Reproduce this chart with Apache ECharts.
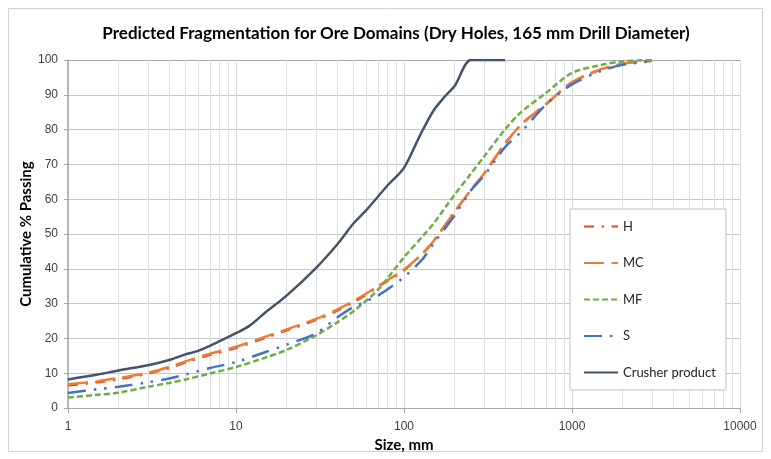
<!DOCTYPE html>
<html>
<head>
<meta charset="utf-8">
<script src="https://cdn.jsdelivr.net/npm/echarts@6/dist/echarts.min.js"></script>
<style>
  html, body { margin: 0; padding: 0; background: #fff; }
  #chart { width: 771px; height: 459px; }
</style>
</head>
<body>
<div id="chart"></div>
<script>
// Data

// Sizes (mm) shared by the domain curves
const domainSizes = [1, 1.5, 2, 3, 4, 5, 7, 10, 15, 20, 30, 40, 50, 70, 100, 130, 150, 200, 250, 300, 400, 500, 700, 1000, 1500, 2000, 3000];

// % passing for each ore domain
const hPassing  = [6.5, 7.4, 8.3, 9.9, 11.5, 13.1, 15.3, 17.3, 20.2, 22.3, 25.3, 28.0, 30.4, 34.8, 39.6, 44.6, 48.0, 56.4, 62.6, 67.4, 76.0, 81.5, 87.3, 93.6, 97.3, 98.8, 99.8];
const mcPassing = [6.8, 7.7, 8.6, 10.1, 11.8, 13.4, 15.6, 17.6, 20.5, 22.6, 25.6, 28.3, 30.7, 35.0, 39.8, 44.6, 48.0, 56.4, 62.6, 67.4, 76.0, 81.5, 87.3, 93.6, 97.4, 98.9, 99.8];
const mfPassing = [3.0, 3.8, 4.4, 6.1, 7.2, 8.2, 9.9, 11.8, 14.5, 16.7, 20.9, 24.6, 27.8, 34.0, 43.3, 49.5, 53.0, 61.3, 67.3, 72.3, 80.1, 85.1, 90.5, 96.3, 98.6, 99.6, 100];
const sPassing  = [4.3, 5.4, 6.1, 7.4, 8.5, 9.6, 11.5, 13.2, 16.1, 18.2, 21.5, 26.0, 29.0, 32.3, 37.6, 43.0, 47.3, 55.3, 62.5, 66.8, 75.0, 79.4, 87.2, 93.0, 96.9, 98.6, 99.7];

// Crusher product curve
const crusherSizes   = [1, 1.5, 2, 3, 4, 5, 6, 8, 10, 12, 15, 20, 30, 40, 50, 60, 80, 100, 125, 150, 175, 200, 250, 300, 400];
const crusherPassing = [8.2, 9.6, 10.8, 12.3, 13.8, 15.4, 16.5, 19.2, 21.5, 23.6, 27.5, 32.3, 40.3, 47.0, 53.0, 57.0, 64.0, 69.0, 78.5, 85.5, 89.5, 92.5, 100, 100, 100];

const seriesNames = ['H', 'MC', 'MF', 'S', 'Crusher product'];

// Minor vertical grid lines of the log axis (2..9 in every decade)
const minorSizes = [];
[1, 10, 100, 1000].forEach(decade => {
  for (let m = 2; m <= 9; m++) minorSizes.push(decade * m);
});

// Build [x, y] pairs
function pairs(xs, ys) {
  return xs.map((x, i) => [x, ys[i]]);
}

const chart = echarts.init(document.getElementById('chart'));

const labelFont = 'Liberation Sans';
const textFont = 'Lato';

// y split line colours, top one darker like the plot border
const ySplitColors = ['#c8c8c8', '#c8c8c8', '#c8c8c8', '#c8c8c8', '#c8c8c8', '#c8c8c8',
  '#c8c8c8', '#c8c8c8', '#c8c8c8', '#c8c8c8', '#a6a6a6'];

// one line series, no symbols
function curve(name, xs, ys, color, dash) {
  return {
    name: name,
    type: 'line',
    data: pairs(xs, ys),
    showSymbol: false,
    symbol: 'none',
    smooth: 0.3,
    color: color,
    itemStyle: { color: color },
    lineStyle: { color: color, width: 2.5, type: dash }
  };
}

const options = {
  animation: false,
  title: {
    text: 'Predicted Fragmentation for Ore Domains (Dry Holes, 165 mm Drill Diameter)',
    left: 391,
    textAlign: 'center',
    top: 20,
    textStyle: {
      fontFamily: textFont,
      fontSize: 17,
      fontWeight: 'bold',
      color: '#000'
    }
  },
  graphic: [{
    type: 'rect',
    silent: true,
    z: -1,
    shape: { x: 8.5, y: 8.5, width: 754, height: 443 },
    style: { fill: 'none', stroke: '#d0d0d0', lineWidth: 1 }
  }],
  grid: {
    left: 68,
    top: 60,
    width: 672,
    height: 348
  },
  legend: {
    orient: 'vertical',
    left: 570,
    top: 209,
    z: 20,
    data: seriesNames,
    itemWidth: 34,
    itemHeight: 14,
    itemGap: 23.5,
    padding: [11, 10, 11, 13],
    backgroundColor: '#fff',
    borderColor: '#bfbfbf',
    borderWidth: 1,
    itemStyle: { opacity: 0 },
    textStyle: {
      fontFamily: textFont,
      fontSize: 13,
      color: '#262626'
    }
  },
  xAxis: {
    type: 'log',
    logBase: 10,
    min: 1,
    max: 10000,
    name: 'Size, mm',
    nameLocation: 'middle',
    nameGap: 29,
    nameTextStyle: {
      fontFamily: textFont,
      fontSize: 15,
      fontWeight: 'bold',
      color: '#000'
    },
    axisLine: { lineStyle: { color: '#a6a6a6', width: 1 } },
    axisTick: { show: true, length: 5, lineStyle: { color: '#a6a6a6' } },
    axisLabel: {
      fontFamily: labelFont,
      fontSize: 12,
      color: '#404040',
      margin: 13,
      formatter: v => String(Math.round(v))
    },
    splitLine: { show: true, lineStyle: { color: '#d9d9d9', width: 1 } }
  },
  yAxis: {
    type: 'value',
    min: 0,
    max: 100,
    interval: 10,
    name: 'Cumulative % Passing',
    nameLocation: 'middle',
    nameGap: 34,
    nameMoveOverlap: false,
    nameTextStyle: {
      fontFamily: textFont,
      fontSize: 15,
      fontWeight: 'bold',
      color: '#000'
    },
    axisLine: { show: true, lineStyle: { color: '#a6a6a6', width: 1.5 } },
    axisTick: { show: true, length: 4, lineStyle: { color: '#a6a6a6' } },
    axisLabel: {
      fontFamily: labelFont,
      fontSize: 12,
      color: '#404040',
      margin: 10
    },
    splitLine: { show: true, lineStyle: { color: ySplitColors, width: 1 } }
  },
  series: [
    {
      // minor log grid lines only
      name: 'minor-grid',
      type: 'line',
      data: [],
      silent: true,
      z: 0,
      markLine: {
        silent: true,
        z: 1,
        symbol: ['none', 'none'],
        label: { show: false },
        animation: false,
        lineStyle: { color: '#dedede', type: 'solid', width: 1 },
        data: minorSizes.map(v => ({ xAxis: v }))
      }
    },
    curve('H', domainSizes, hPassing, '#e8452c', [10, 7.5, 2.5, 7.5]),
    curve('MC', domainSizes, mcPassing, '#ed7d31', [20, 7.5]),
    curve('MF', domainSizes, mfPassing, '#70ad47', [6, 3]),
    curve('S', domainSizes, sPassing, '#4472c4', [18, 8, 2.5, 8, 2.5, 8]),
    curve('Crusher product', crusherSizes, crusherPassing, '#44546a', 'solid')
  ]
};

chart.setOption(options);
</script>
</body>
</html>
